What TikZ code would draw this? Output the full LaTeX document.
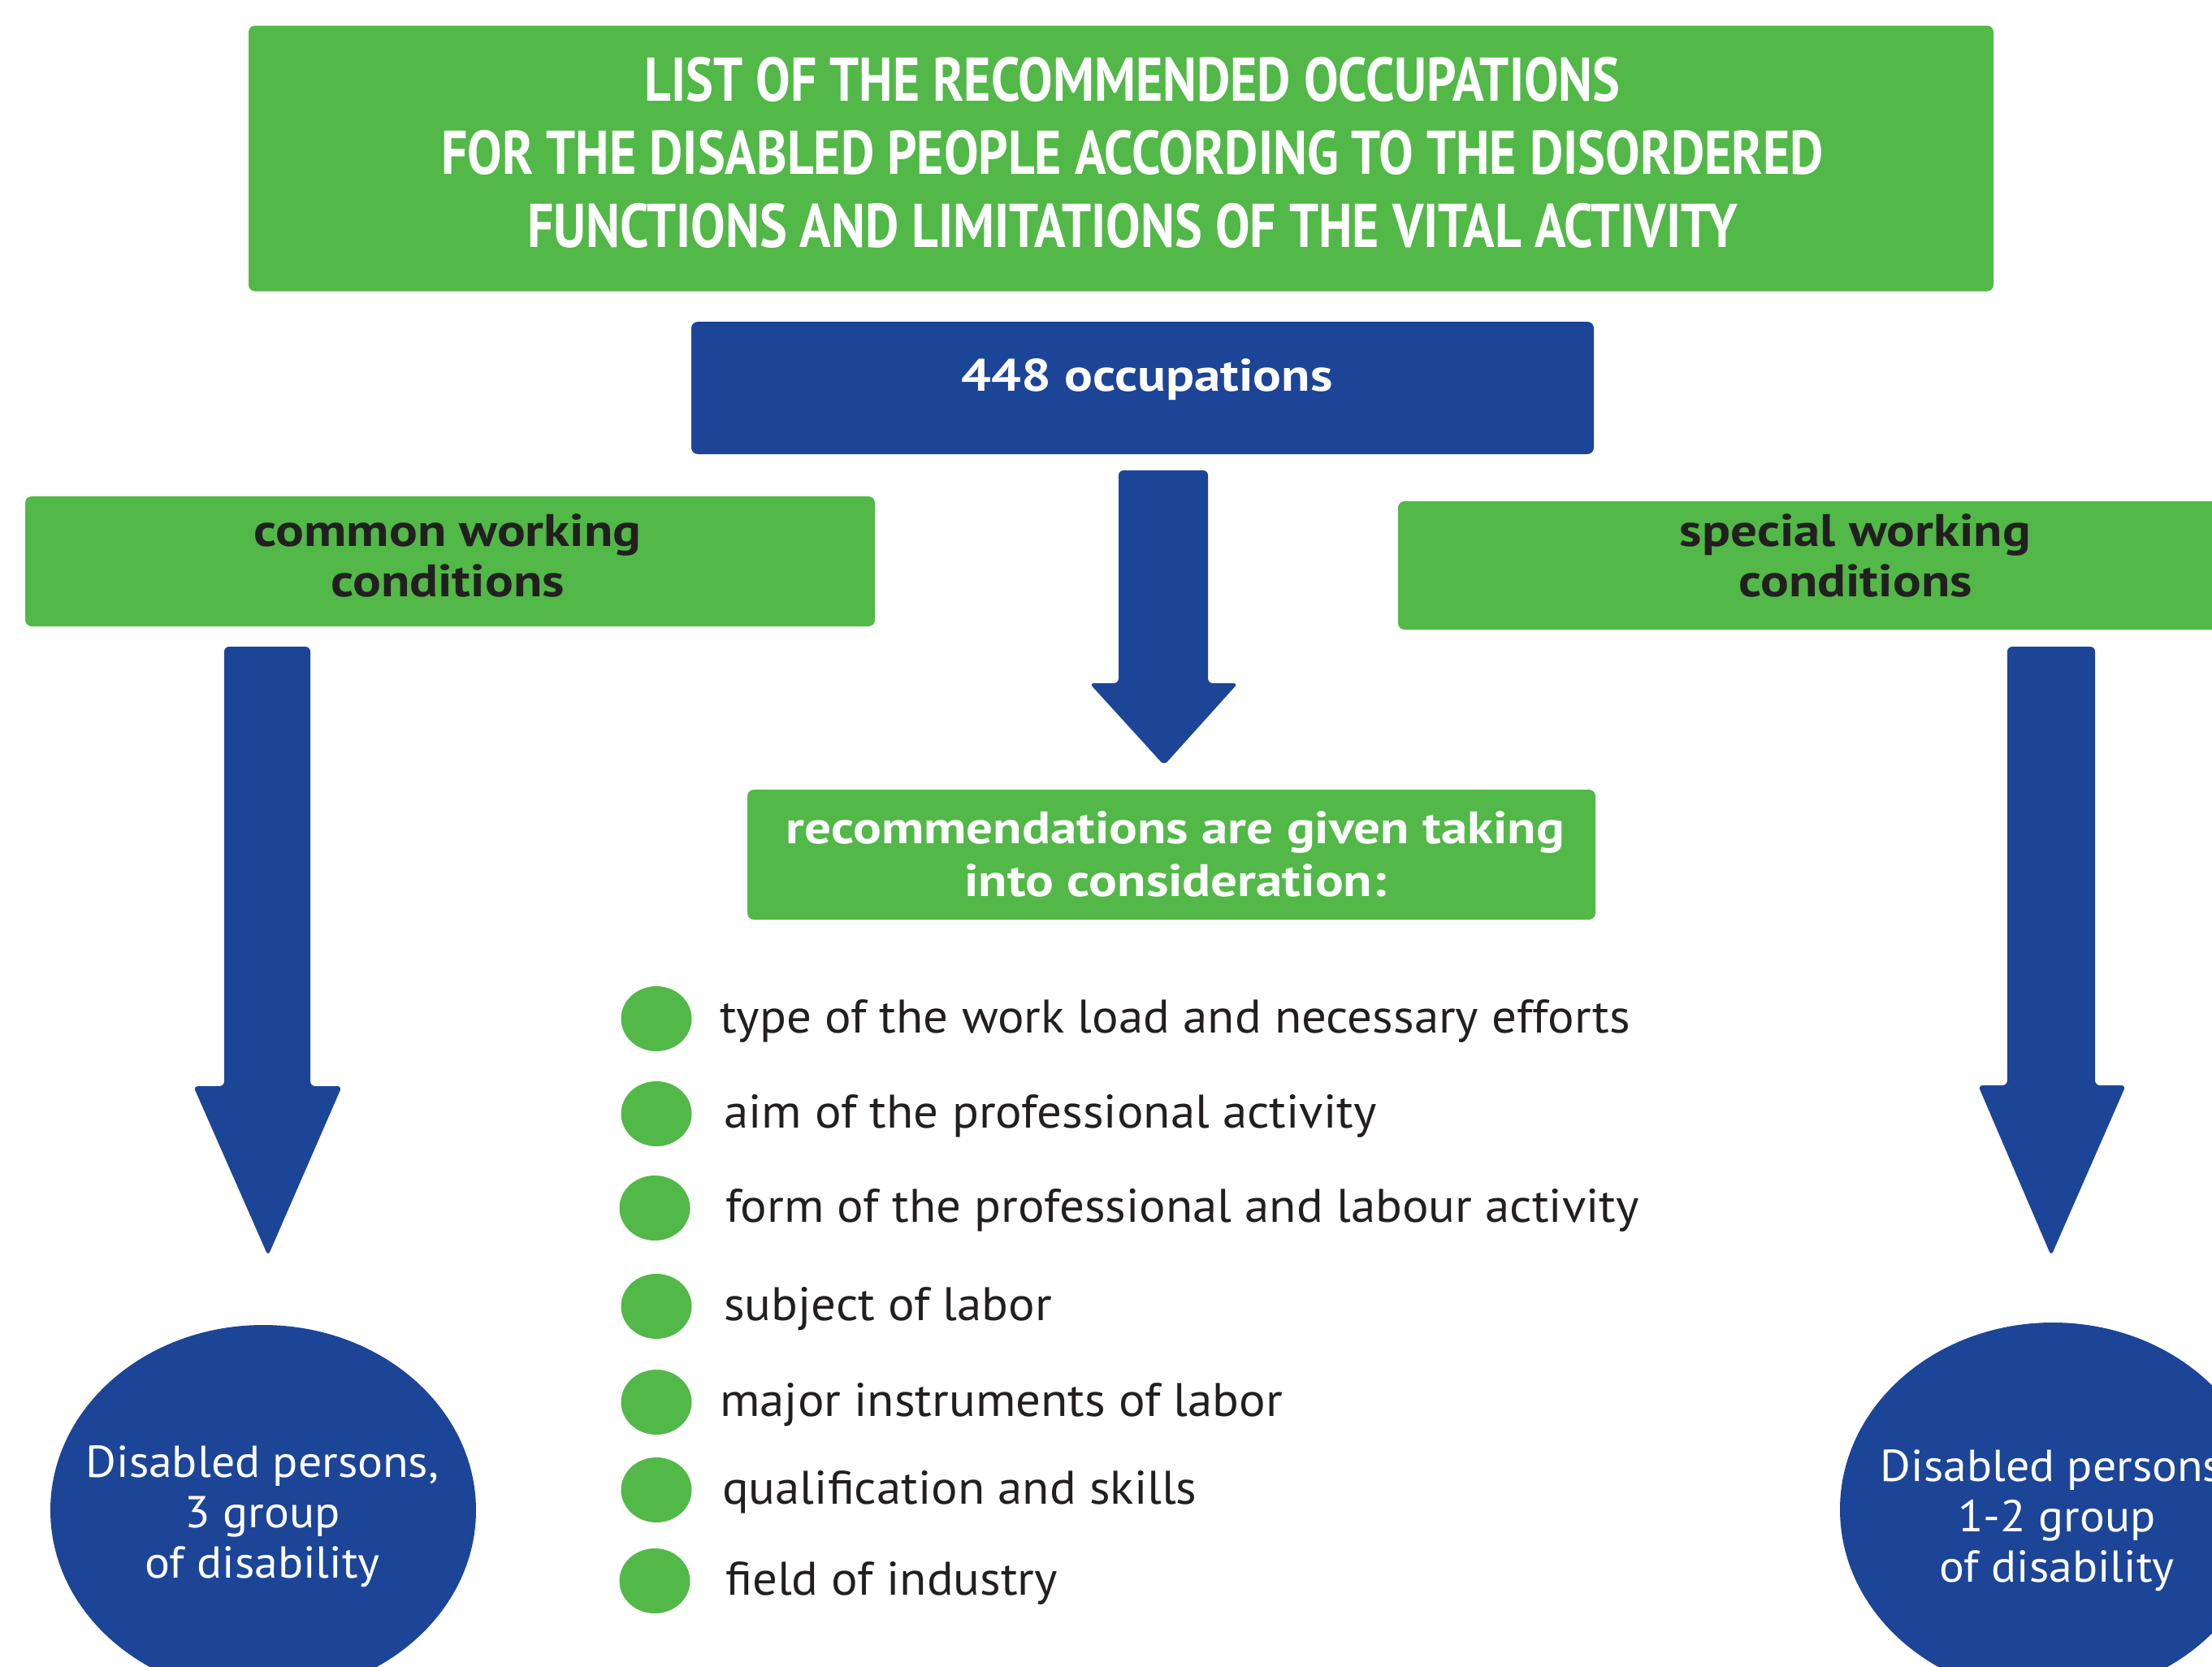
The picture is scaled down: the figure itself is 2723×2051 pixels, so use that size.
\documentclass[tikz,border=0pt]{standalone}
\usepackage{fontspec}
\usetikzlibrary{shapes.geometric}
\setmainfont{PT Sans}
\newfontfamily\titlefont{PT Sans}[FakeStretch=0.838]
\newfontfamily\boldwide{PT Sans}[FakeStretch=1.16]
\newfontfamily\regwide{PT Sans}[FakeStretch=1.05]
\definecolor{mygreen}{RGB}{82,184,72}
\definecolor{myblue}{RGB}{28,69,152}
\definecolor{mytext}{RGB}{35,31,32}
\begin{document}
\begin{tikzpicture}[x=1pt,y=-1pt,
  greenbox/.style={fill=mygreen, draw=none, rounded corners=8pt, inner sep=0pt, align=center},
  bluebox/.style={fill=myblue, draw=none, rounded corners=8pt, inner sep=0pt, align=center},
  blockarrow/.style={fill=myblue, draw=none, rounded corners=6pt},
  bullet/.style={ellipse, fill=mygreen, draw=none, minimum width=87pt, minimum height=80pt, inner sep=0pt},
  item/.style={anchor=west, inner sep=0pt, text=mytext, font=\regwide\fontsize{58}{68}\selectfont, text height=0.7em, text depth=0.2em},
  group/.style={ellipse, fill=myblue, draw=none, inner sep=0pt},
  grouptext/.style={text=white, align=center, inner sep=0pt, font=\regwide\fontsize{55}{62}\selectfont},
  boldtext/.style={inner sep=0pt, align=center, font=\boldwide\bfseries\fontsize{56}{62}\selectfont}
]
\useasboundingbox (0,0) rectangle (2723,2051);
\clip (0,0) rectangle (2723,2051);

% title
\node[greenbox, minimum width=2148pt, minimum height=327pt] (title) at (1380,195) {};
\node[text=white, align=center, inner sep=0pt,
      font=\titlefont\bfseries\fontsize{76}{90}\selectfont] (titletext) at (1394,188)
  {LIST OF THE RECOMMENDED OCCUPATIONS\\FOR THE DISABLED PEOPLE ACCORDING TO THE DISORDERED\\FUNCTIONS AND LIMITATIONS OF THE VITAL ACTIVITY};

% 448 occupations
\node[bluebox, minimum width=1111pt, minimum height=163pt] (occ) at (1406.5,477.5) {};
\node[boldtext, text=white] (occtext) at (1412,467) {448 occupations};

% side boxes
\node[greenbox, minimum width=1046pt, minimum height=160pt] (common) at (554,691) {};
\node[boldtext, text=mytext] (commontext) at (551,684) {common working\\conditions};
\node[greenbox, minimum width=1126pt, minimum height=158pt] (special) at (2284,696) {};
\node[boldtext, text=mytext] (specialtext) at (2284,684) {special working\\conditions};

% recommendations
\node[greenbox, minimum width=1044pt, minimum height=160pt] (rec) at (1442,1052) {};
\node[boldtext, text=white, font=\boldwide\bfseries\fontsize{56}{65}\selectfont] (rectext) at (1447,1051) {recommendations are given taking\\into consideration:};

% arrows
\fill[blockarrow] (1377,579) -- (1487,579) -- (1487,841) -- (1524,841) -- (1433,942) -- (1341,841) -- (1377,841) -- cycle;
\fill[blockarrow] (276,796) -- (382,796) -- (382,1337) -- (421,1337) -- (330,1546) -- (238,1337) -- (276,1337) -- cycle;
\fill[blockarrow] (2471,796) -- (2579,796) -- (2579,1336) -- (2617,1336) -- (2525,1546) -- (2435,1336) -- (2471,1336) -- cycle;

% bullets
\node[bullet] (b1) at (808,1254) {};
\node[bullet] (b2) at (808,1371) {};
\node[bullet] (b3) at (806,1487) {};
\node[bullet] (b4) at (808,1608) {};
\node[bullet] (b5) at (808,1726) {};
\node[bullet] (b6) at (808,1834) {};
\node[bullet] (b7) at (806,1946) {};
\node[item] (t1) at (886,1269) {type of the work load and necessary efforts};
\node[item] (t2) at (891,1386) {aim of the professional activity};
\node[item] (t3) at (893,1502) {form of the professional and labour activity};
\node[item] (t4) at (891,1623) {subject of labor};
\node[item] (t5) at (886,1741) {major instruments of labor};
\node[item] (t6) at (889,1849) {qualification and skills};
\node[item] (t7) at (893,1961) {field of industry};

% groups
\node[group, minimum width=524pt, minimum height=456pt] (g3) at (324,1859) {};
\node[grouptext] (g3t) at (323,1867) {Disabled persons,\\3 group\\of disability};
\node[group, minimum width=524pt, minimum height=460pt] (g12) at (2527,1858) {};
\node[grouptext] (g12t) at (2532,1872) {Disabled persons,\\1-2 group\\of disability};
\end{tikzpicture}
\end{document}
